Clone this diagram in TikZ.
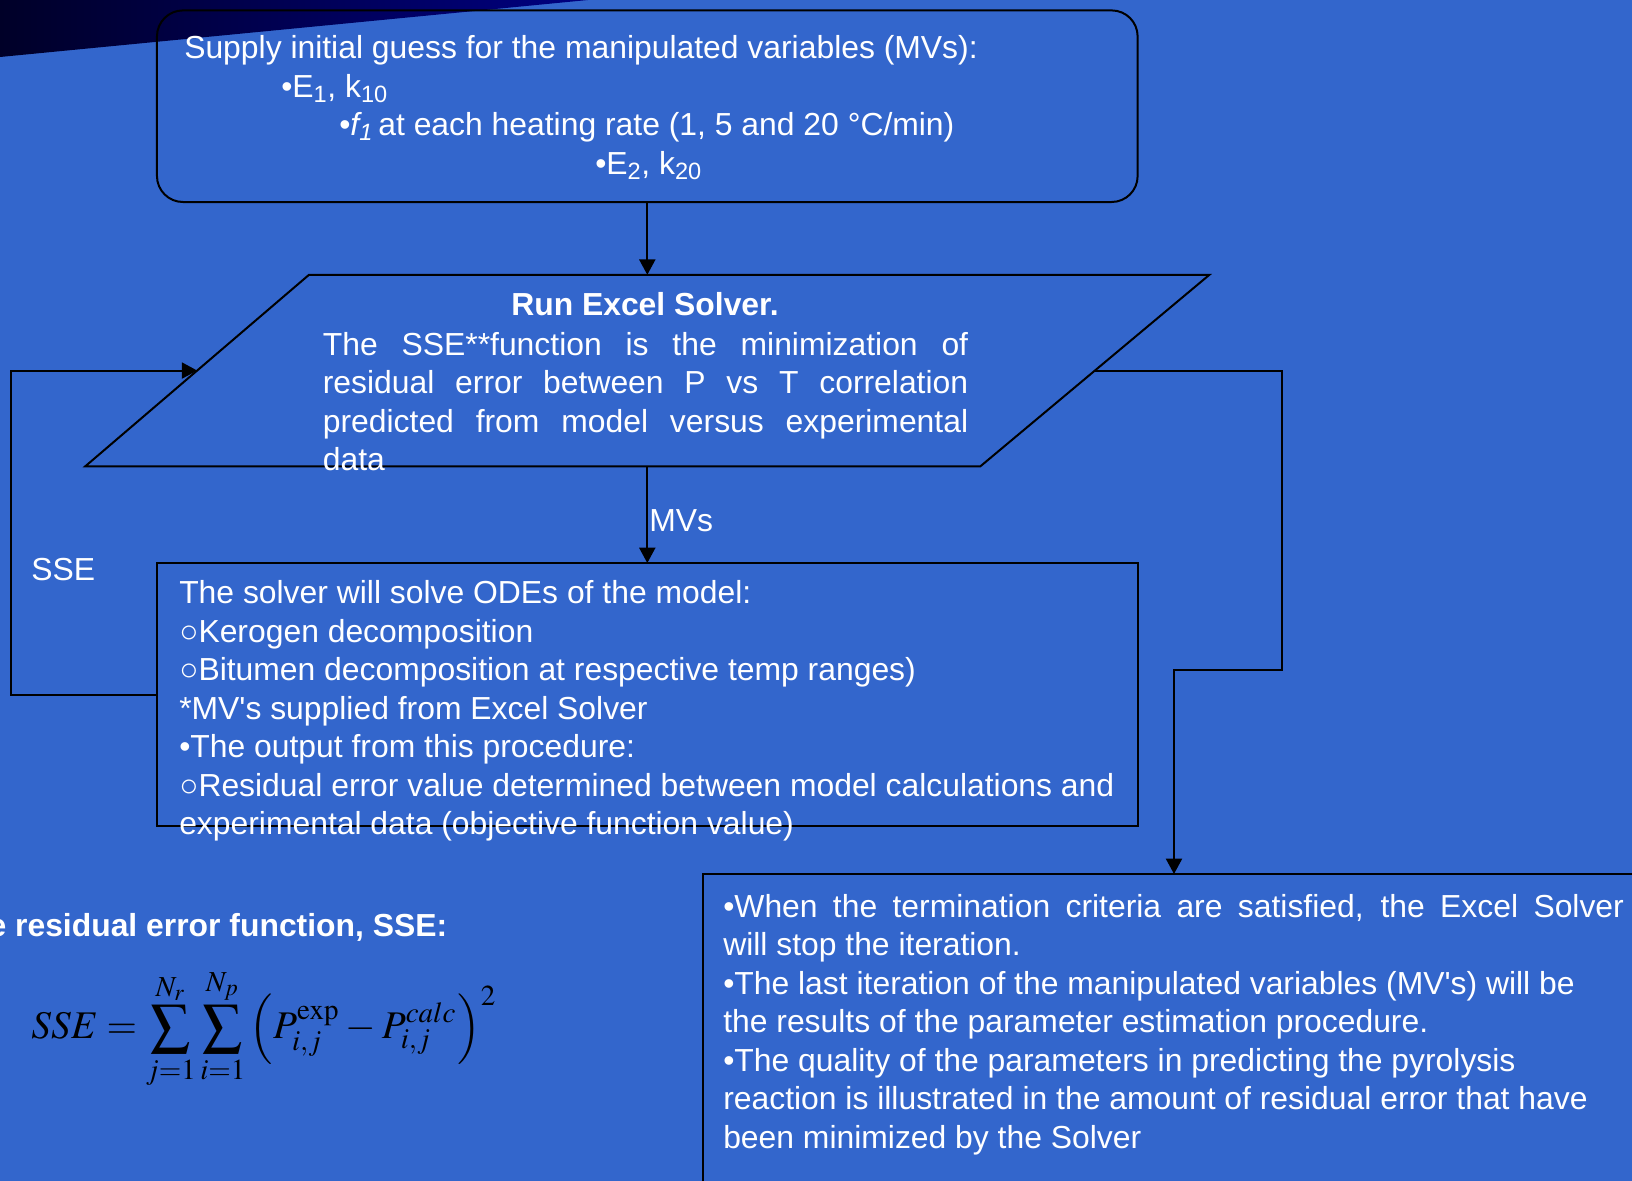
\documentclass[tikz,border=0pt]{standalone}
\usepackage{mathptmx}
\usepackage[no-math]{fontspec}
\setmainfont{Liberation Sans}[Ligatures=TeXOff]
\usepackage{graphicx}
\usetikzlibrary{arrows.meta}

\definecolor{slideblue}{RGB}{51,102,204}
\definecolor{slidenavy}{RGB}{0,0,128}
\definecolor{slidedark}{RGB}{0,0,40}

% full line with stretched spaces
\newcommand{\fullline}[2]{\makebox[#1][s]{\spaceskip=0pt\relax #2}}

\tikzset{
  flowbox/.style={draw=black, line width=1.5pt, inner sep=0pt, outer sep=0pt},
  flowline/.style={draw=black, line width=1.5pt, line join=miter},
  flowarrow/.style={flowline, -{Triangle[length=11.5pt,width=12pt]}},
  flowtext/.style={text=white, inner sep=0pt, anchor=base west, align=left, font=\fontsize{23.9}{28.9}\selectfont},
  flowbold/.style={flowtext, font=\fontsize{23.9}{28.9}\selectfont\bfseries},
}

\begin{document}
\begin{tikzpicture}[x=0.75pt,y=0.75pt,yscale=-1,xscale=1]
			\useasboundingbox (0,0) rectangle (1632,1181);
			\clip (0,0) rectangle (1632,1181);
			
			%Shape: Background
			\fill [slideblue] (0,0) rectangle (1632,1181);
			\shade [left color=slidedark, right color=slidenavy] (0,0) -- (588,0) -- (0,57) -- cycle;
			
			%Shape: Rounded Rect
			\node [flowbox, rounded corners=19.5pt, minimum width=735.5pt, minimum height=143.7pt] (guess) at (647.3,106.2) {};
			%Shape: Parallelogram
			\coordinate (solverbl) at (85.3,466.3);
			\coordinate (solvertl) at (309,274.8);
			\coordinate (solvertr) at (1209.4,274.8);
			\coordinate (solverbr) at (980.4,466.3);
			\coordinate (solverleft) at (197.2,370.55);
			\coordinate (solverright) at (1094.9,370.55);
			\draw [flowline] (solverbl) -- (solvertl) -- (solvertr) -- (solverbr) -- cycle;
			%Shape: Rectangle
			\node [flowbox, minimum width=735.5pt, minimum height=197.5pt] (odes) at (647.3,694.7) {};
			%Shape: Rectangle
			\node [flowbox, minimum width=707.1pt, minimum height=255pt] (result) at (1174,1044) {};
			
			%Straight Lines
			\draw [flowarrow] (guess.south) -- (guess.south |- solvertl) ;
			%Straight Lines
			\draw [flowarrow] (odes.north |- solverbl) -- (odes.north) ;
			%Feedback loop
			\draw [flowarrow] (odes.west) -- ++(-145.5,0) |- (solverleft) ;
			%Exit loop
			\coordinate (solverturn) at (1282.3,670.3) ;
			\draw [flowarrow] (solverright) -| (solverturn) -| (result.north) ;
			
			% Text Node
			\node [flowtext, text width=700pt] (guesstext) at (184,58.5) {\spaceskip=0pt\relax Supply initial guess for the manipulated variables (MVs):\\
				\hspace*{72.75pt}•E\textsubscript{1}, k\textsubscript{10}\\
				\hspace*{116.25pt}•\textit{f\textsubscript{1}}\,at each heating rate (1, 5 and 20 °C/min)\\
				\hspace*{308.25pt}•E\textsubscript{2}, k\textsubscript{20}};
			% Text Node
			\node [flowbold, anchor=base] (solvertitle) at (645,315.5) {Run Excel Solver.};
			% Text Node
			\node [flowtext, text width=484pt] (solvertext) at (322.6,355) {\fullline{484pt}{The SSE**function is the minimization of}\\
				\fullline{484pt}{residual error between P vs T correlation}\\
				\fullline{484pt}{predicted from model versus experimental}\\
				data};
			% Text Node
			\node [flowtext, text width=720pt] (odestext) at (179,603.5) {\spaceskip=0pt\relax The solver will solve ODEs of the model:\\
				○Kerogen decomposition\\
				○Bitumen decomposition at respective temp ranges)\\
				{*}MV's supplied from Excel Solver\\
				•The output from this procedure:\\
				○Residual error value determined between model calculations and\\
				experimental data (objective function value)};
			% Text Node
			\node [flowtext, text width=700pt] (resulttext) at (723,917) {\spaceskip=0pt\relax \fullline{675.5pt}{•When the termination criteria are satisfied, the Excel Solver}\\
				will stop the iteration.\\
				•The last iteration of the manipulated variables (MV's) will be\\
				the results of the parameter estimation procedure.\\
				•The quality of the parameters in predicting the pyrolysis\\
				reaction is illustrated in the amount of residual error that have\\
				been minimized by the Solver};
			% Text Node
			\node [flowtext] (ssefeedback) at (31,580.4) {SSE};
			% Text Node
			\node [flowtext] (mvslabel) at (649,531) {MVs};
			% Text Node
			\node [flowbold, anchor=base east] (ssetitle) at (447.5,936) {e residual error function, SSE:};
			% Formula
			\node [anchor=west, inner sep=0pt] (ssedef) at (31,1029) {\resizebox{349.5pt}{!}{$\displaystyle SSE=\sum_{j=1}^{N_r}\sum_{i=1}^{N_p}\left(P_{i,j}^{\mathrm{exp}}-P_{i,j}^{calc}\right)^{2}$}};
			
\end{tikzpicture}
\end{document}
